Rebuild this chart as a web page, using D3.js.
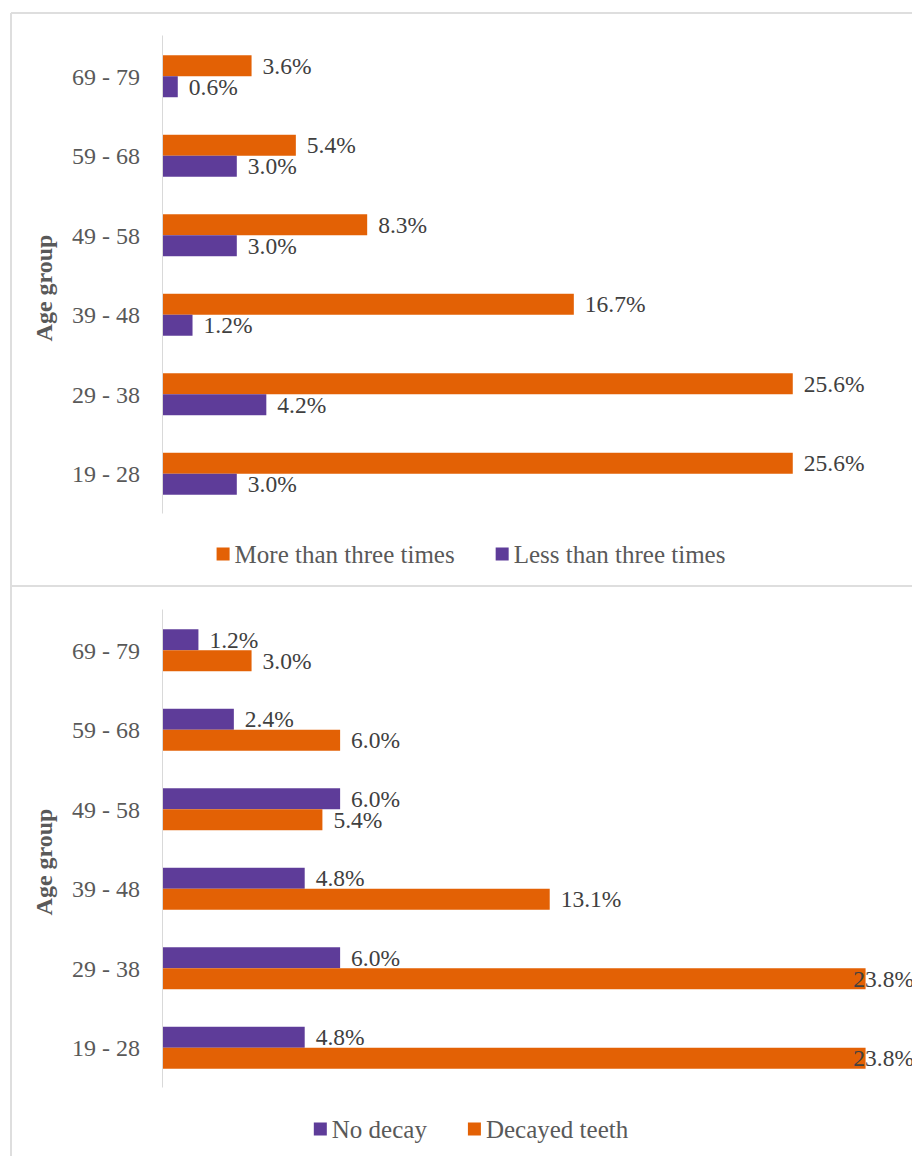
<!DOCTYPE html>
<html>
<head>
<script src="https://cdn.jsdelivr.net/npm/d3@7"></script>
</head>
<body style="margin:0">
    <svg id="svg" width="912" height="1156"></svg>
    <script>
        // data
        const ageGroups = ["69 - 79", "59 - 68", "49 - 58", "39 - 48", "29 - 38", "19 - 28"];
        const moreThanThree = [3.6, 5.4, 8.3, 16.7, 25.6, 25.6];
        const lessThanThree = [0.6, 3.0, 3.0, 1.2, 4.2, 3.0];
        const noDecay = [1.2, 2.4, 6.0, 4.8, 6.0, 4.8];
        const decayedTeeth = [3.0, 6.0, 5.4, 13.1, 23.8, 23.8];

        const orange = "#e36105";
        const purple = "#5e3c99";
        const svg = d3.select("#svg");

        // panel frames
        svg.append("line").attr("x1", 11).attr("x2", 11).attr("y1", 13).attr("y2", 1156)
            .attr("stroke", "#dedede").attr("stroke-width", 2);
        svg.append("line").attr("x1", 11).attr("x2", 912).attr("y1", 13).attr("y2", 13)
            .attr("stroke", "#dedede").attr("stroke-width", 2);
        svg.append("line").attr("x1", 11).attr("x2", 912).attr("y1", 586).attr("y2", 586)
            .attr("stroke", "#dedede").attr("stroke-width", 2);

        function addText(sel) {
            return sel.append("text").style("font-family", "Liberation Serif");
        }

        function drawPanel(opts) {
            const g = svg.append("g");
            const x = d3.scaleLinear().domain([0, opts.max]).range([163, 901]);
            const y = d3.scaleBand().domain(ageGroups).range(opts.yRange)
                .paddingInner(0.472).paddingOuter(0.236);
            const sub = d3.scaleBand().domain(opts.series.map(s => s.name))
                .range([0, y.bandwidth()]);

            // category labels
            ageGroups.forEach(a => {
                addText(g)
                    .attr("x", 140)
                    .attr("y", y(a) + y.bandwidth() / 2)
                    .attr("dy", "0.35em")
                    .attr("text-anchor", "end")
                    .attr("font-size", 24)
                    .attr("fill", "#595959")
                    .text(a);
            });

            opts.series.forEach(s => {
                ageGroups.forEach((a, i) => {
                    const v = s.values[i];
                    g.append("rect")
                        .attr("x", x(0))
                        .attr("y", y(a) + sub(s.name))
                        .attr("width", x(v) - x(0))
                        .attr("height", sub.bandwidth())
                        .attr("fill", s.color);
                    addText(g)
                        .attr("y", y(a) + sub(s.name) + sub.bandwidth() / 2)
                        .attr("dy", "0.35em")
                        .attr("font-size", 23.5)
                        .attr("fill", "#404040")
                        .text(v.toFixed(1) + "%")
                        .attr("x", function () {
                            const w = this.getComputedTextLength();
                            return Math.min(x(v) + 11, 914 - w);
                        });
                });
            });

            // vertical axis line
            g.append("line")
                .attr("x1", x(0) - 0.5).attr("x2", x(0) - 0.5)
                .attr("y1", opts.yRange[0] - 1).attr("y2", opts.yRange[1])
                .attr("stroke", "#d9d9d9");

            // axis title
            addText(g)
                .attr("transform", "translate(52," + opts.titleY + ") rotate(-90)")
                .attr("text-anchor", "middle")
                .attr("font-size", 24)
                .attr("font-weight", "bold")
                .attr("fill", "#595959")
                .text("Age group");

            // legend
            const leg = g.append("g");
            let cx = 0;
            opts.legend.forEach(s => {
                const item = leg.append("g").attr("transform", "translate(" + cx + ",0)");
                item.append("rect").attr("x", 0).attr("y", -6.5).attr("width", 13).attr("height", 13)
                    .attr("fill", s.color);
                const t = addText(item).attr("x", 18).attr("y", 0).attr("dy", "0.35em")
                    .attr("font-size", 25).attr("fill", "#595959").text(s.name);
                cx += 18 + t.node().getComputedTextLength() + 41;
            });
            const lw = cx - 41;
            leg.attr("transform", "translate(" + (471 - lw / 2) + "," + opts.legendY + ")");
        }

        const moreS = { name: "More than three times", values: moreThanThree, color: orange };
        const lessS = { name: "Less than three times", values: lessThanThree, color: purple };
        drawPanel({
            max: 30,
            yRange: [36.5, 513.5],
            series: [moreS, lessS],
            legend: [moreS, lessS],
            titleY: 288,
            legendY: 554
        });

        const noS = { name: "No decay", values: noDecay, color: purple };
        const decS = { name: "Decayed teeth", values: decayedTeeth, color: orange };
        drawPanel({
            max: 25,
            yRange: [610.5, 1087.5],
            series: [noS, decS],
            legend: [noS, decS],
            titleY: 862,
            legendY: 1129
        });
    </script>
</body>
</html>
